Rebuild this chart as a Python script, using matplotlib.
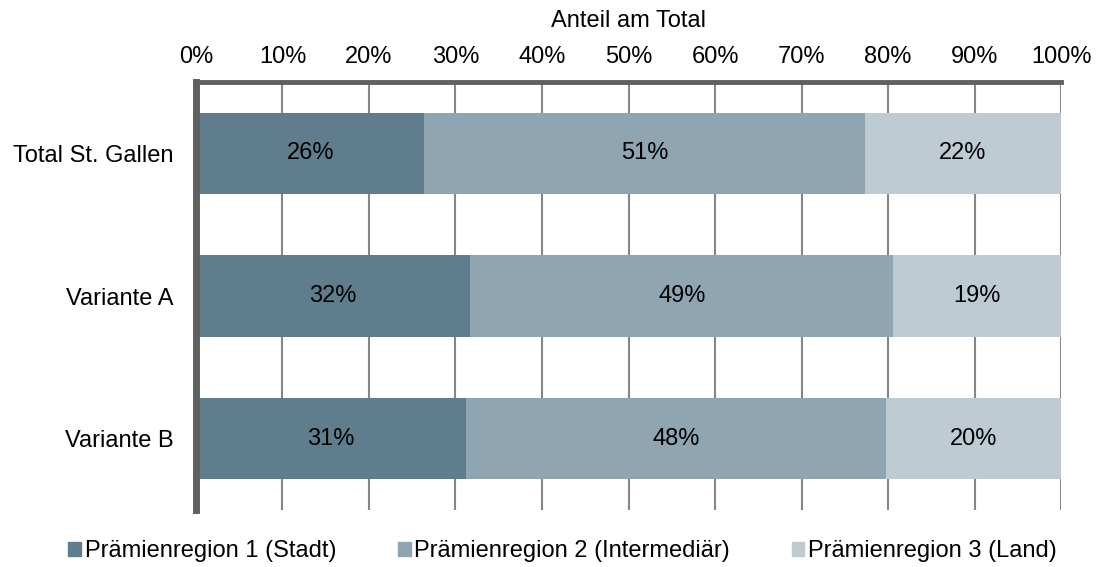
import matplotlib.pyplot as plt
from matplotlib.patches import Patch
from matplotlib.ticker import PercentFormatter

plt.rcParams['font.family'] = ['Liberation Sans', 'DejaVu Sans']

categories = ['Total St. Gallen', 'Variante A', 'Variante B']
series = ['Prämienregion 1 (Stadt)', 'Prämienregion 2 (Intermediär)', 'Prämienregion 3 (Land)']
region1 = [26.4, 31.7, 31.2]
region2 = [50.9, 48.9, 48.6]
region3 = [22.7, 19.4, 20.2]
labels1 = ['26%', '32%', '31%']
labels2 = ['51%', '49%', '48%']
labels3 = ['22%', '19%', '20%']
colors = ['#607d8e', '#8fa5b1', '#bfcbd3']
fs = 17

fig = plt.figure(figsize=(11.01, 5.67), dpi=100)
ax = fig.add_axes([0.178, 0.1005, 0.7857, 0.7549])

y = list(range(len(categories)))
left = [0, 0, 0]
for vals, labs, col in zip([region1, region2, region3], [labels1, labels2, labels3], colors):
    bars = ax.barh(y, vals, left=left, height=0.57, color=col, zorder=2)
    ax.bar_label(bars, labels=labs, label_type='center', fontsize=fs, color='black')
    left = [l + v for l, v in zip(left, vals)]

ax.set_xlim(0, 100)
ax.set_ylim(2.5, -0.5)
ax.set_yticks(y)
ax.set_yticklabels(categories, fontsize=fs)
ax.set_xticks(range(0, 101, 10))
ax.xaxis.set_major_formatter(PercentFormatter(decimals=0))
ax.xaxis.tick_top()
ax.xaxis.set_label_position('top')
ax.set_xlabel('Anteil am Total', fontsize=fs, labelpad=14)
ax.tick_params(axis='both', length=0, labelsize=fs, pad=16)
ax.tick_params(axis='x', pad=10)
ax.grid(axis='x', color='#868686', linewidth=1.5, zorder=1)

for s in ['right', 'bottom']:
    ax.spines[s].set_visible(False)
ax.spines['left'].set_color('#606060')
ax.spines['left'].set_linewidth(5)
ax.spines['top'].set_color('#606060')
ax.spines['top'].set_linewidth(3.5)

handles = [Patch(color=c) for c in colors]
fig.legend(handles, series, loc='center', bbox_to_anchor=(0.511, 0.028), ncol=3,
           frameon=False, fontsize=fs, handlelength=0.55, handleheight=0.55,
           handletextpad=0.15, columnspacing=2.6)

fig.savefig('out.png', dpi=100)
